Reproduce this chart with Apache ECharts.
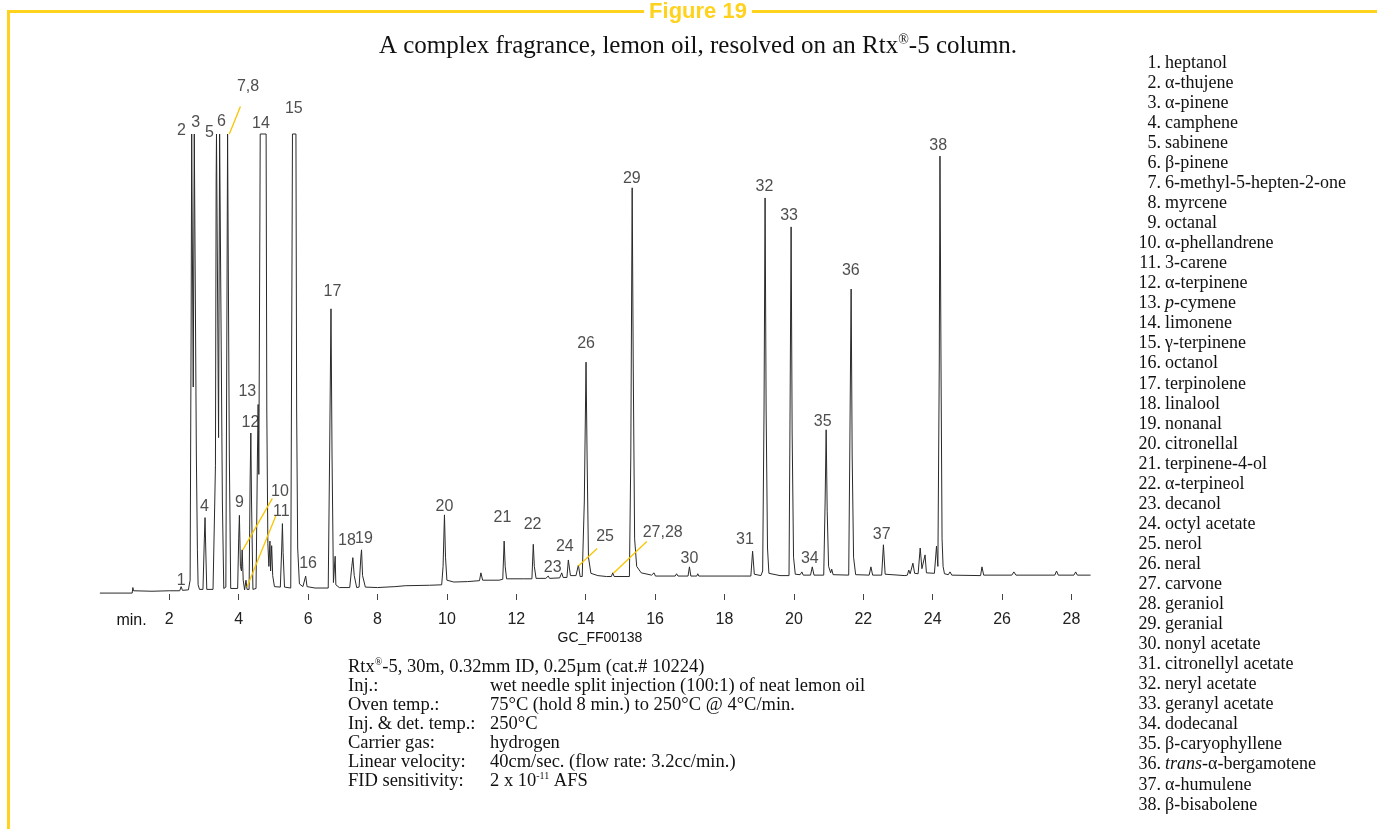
<!DOCTYPE html>
<html><head><meta charset="utf-8">
<script src="https://cdn.jsdelivr.net/npm/echarts@6/dist/echarts.min.js"></script>
<style>html,body{margin:0;padding:0;background:#fff}#c{width:1377px;height:829px}</style>
</head><body><div id="c"></div>
<script>
// ---- data ----
// retention time axis ticks (min.)
const tickValues = [2,4,6,8,10,12,14,16,18,20,22,24,26,28];
// chromatogram trace: [retention time (min), detector response (% of full scale, clipped at 100)]
const trace = [
[0.00,0.2],[0.93,0.2],[0.95,1.4],[0.97,0.7],[1.5,0.6],[2.0,0.7],[2.30,0.7],[2.34,1.6],[2.38,0.8],[2.55,0.9],
[2.60,3],[2.63,60],[2.645,100],[2.665,100],[2.69,45],[2.72,100],[2.76,100],[2.78,30],[2.81,9.6],[2.83,2],[2.87,1.0],
[2.97,1.0],[3.01,12],[3.03,16.6],[3.05,10],[3.08,1.0],
[3.26,1.0],[3.31,20],[3.33,28],[3.35,90],[3.36,100],[3.40,100],[3.42,34],[3.45,100],[3.50,100],[3.53,20],[3.57,1.2],
[3.63,1.5],[3.66,60],[3.68,100],[3.71,100],[3.73,30],[3.77,1.2],
[3.97,1.2],[4.00,12],[4.02,17.1],[4.05,6],
[4.08,5],[4.10,9.6],[4.13,3],[4.17,0.9],
[4.21,3.0],[4.24,1.0],
[4.30,1.0],[4.33,25],[4.35,35.0],[4.37,20],[4.41,1.0],
[4.50,1.2],[4.54,30],[4.56,41.2],[4.58,26],[4.61,80],[4.62,100],[4.79,100],[4.81,40],[4.84,11],[4.87,6],[4.90,11.5],[4.92,5],[4.95,10.5],[4.98,4],[5.03,1.6],
[5.20,1.5],[5.24,10],[5.26,15.3],[5.28,9],[5.32,1.5],
[5.50,1.3],[5.54,80],[5.55,100],[5.65,100],[5.67,40],[5.70,10],[5.75,2.2],[5.85,1.6],
[5.90,1.6],[5.93,3.9],[5.97,1.6],[6.2,1.3],
[6.58,1.3],[6.62,30],[6.66,62.0],[6.69,30],[6.73,2.5],[6.76,2.2],[6.78,8.2],[6.80,2.0],[6.9,1.4],
[7.2,1.4],[7.26,6],[7.29,7.9],[7.33,4],[7.40,1.4],[7.47,1.5],[7.52,8],[7.54,9.6],[7.57,4],[7.65,1.5],
[8.0,1.4],[8.5,1.6],[8.8,1.8],[9.5,1.9],[9.85,2.0],
[9.89,6],[9.93,17.2],[9.96,8],[10.00,3.0],[10.2,2.6],[10.6,2.7],[10.94,2.9],[10.98,4.6],[11.03,3.0],[11.5,3.0],[11.55,3.2],
[11.61,3.2],[11.65,11.5],[11.68,6],[11.72,3.3],[12.2,3.3],
[12.45,3.3],[12.49,10.8],[12.52,6],[12.57,3.4],[12.85,3.4],
[12.92,3.9],[12.96,3.4],[13.25,3.5],[13.31,4.6],[13.35,3.6],
[13.46,3.6],[13.50,7.4],[13.56,4.0],[13.72,4.0],[13.79,6.3],[13.84,3.8],[13.90,3.8],[13.96,20],[14.01,50.4],[14.04,30],[14.08,8],[14.15,4.5],[14.35,4.0],[14.6,3.8],
[14.74,3.8],[14.78,4.6],[14.82,3.8],
[15.26,3.8],[15.30,30],[15.34,88.3],[15.37,50],[15.41,12],[15.47,6],[15.6,4.6],[15.9,4.1],
[15.94,4.0],[15.97,4.6],[16.01,3.9],[16.58,3.9],[16.62,4.4],[16.66,3.9],
[16.95,3.9],[16.99,5.9],[17.03,3.9],[17.20,3.9],[17.23,4.4],[17.26,3.9],[18.5,3.9],
[18.76,3.9],[18.81,9.3],[18.86,4.3],[19.05,4.0],
[19.10,5],[19.14,40],[19.17,86.1],[19.20,40],[19.24,10],[19.28,4.5],[19.6,4.0],
[19.86,4.0],[19.89,40],[19.92,79.8],[19.95,35],[19.99,8],[20.04,4.3],[20.18,4.2],[20.23,4.8],[20.27,4.1],
[20.48,4.1],[20.53,5.9],[20.58,4.1],
[20.86,4.1],[20.90,20],[20.93,35.7],[20.96,18],[21.0,6],[21.06,4.6],[21.09,5.4],[21.13,4.2],
[21.58,4.1],[21.61,30],[21.65,66.3],[21.68,30],[21.72,8],[21.78,4.2],
[22.17,4.1],[22.22,5.9],[22.27,4.1],
[22.53,4.1],[22.58,10.7],[22.63,4.3],[23.2,4.0],
[23.27,4.1],[23.31,5.2],[23.35,4.4],[23.43,6.7],[23.48,4.5],[23.58,4.4],[23.64,10.0],[23.69,5.5],[23.73,5.2],[23.78,8.5],[23.82,4.6],[24.05,4.5],[24.11,10.4],[24.15,6],
[24.19,50],[24.21,95.2],[24.24,50],[24.27,12],[24.30,6],[24.34,4.4],[24.45,4.2],[24.50,4.8],[24.55,4.1],
[25.38,4.0],[25.42,5.9],[25.47,4.1],[26.28,4.1],[26.34,4.8],[26.40,4.1],[27.52,4.1],[27.57,5.0],[27.62,4.1],[28.07,4.1],[28.12,4.8],[28.17,4.1],[28.55,4.1]
];
// peak number labels: [text, time, response] (label centre)
const peakLabels = [
['1',2.34,3.0],['2',2.35,100.7],['3',2.76,102.4],['4',3.01,19.1],['5',3.16,100.4],['6',3.50,102.6],
['7,8',4.27,110.2],['9',4.02,19.8],['10',5.19,22.2],['11',5.23,18.0],['12',4.34,37.2],['13',4.25,44.1],
['14',4.64,102.2],['15',5.59,105.5],['16',6.0,6.7],['17',6.70,65.7],['18',7.12,11.7],['19',7.61,12.0],
['20',9.93,19.0],['21',11.60,16.6],['22',12.47,15.0],['23',13.05,5.7],['24',13.40,10.3],['25',14.56,12.5],
['26',14.01,54.5],['27,28',16.22,13.3],['29',15.33,90.2],['30',16.99,7.8],['31',18.59,11.9],['32',19.15,88.5],
['33',19.86,82.2],['34',20.46,7.8],['35',20.83,37.5],['36',21.64,70.3],['37',22.53,13.0],['38',24.16,97.4]
];
// yellow leader lines from label to peak: [[t1,v1],[t2,v2]]
const leaders = [
[[4.05,106.0],[3.73,100.0]],
[[4.97,20.8],[4.12,9.6]],
[[5.07,17.0],[4.24,1.5]],
[[14.33,9.9],[13.79,6.1]],
[[15.76,11.4],[14.80,4.5]]
];
// peak identification list
const compoundNames = [
'heptanol','{g|α}-thujene','{g|α}-pinene','camphene','sabinene','{g|β}-pinene','6-methyl-5-hepten-2-one',
'myrcene','octanal','{g|α}-phellandrene','3-carene','{g|α}-terpinene','{i|p}-cymene','limonene',
'{g|γ}-terpinene','octanol','terpinolene','linalool','nonanal','citronellal','terpinene-4-ol',
'{g|α}-terpineol','decanol','octyl acetate','nerol','neral','carvone','geraniol','geranial',
'nonyl acetate','citronellyl acetate','neryl acetate','geranyl acetate','dodecanal',
'{g|β}-caryophyllene','{i|trans}-{g|α}-bergamotene','{g|α}-humulene','{g|β}-bisabolene'
];
const figureTitle = 'Figure 19';
const subtitle = 'A complex fragrance, lemon oil, resolved on an Rtx{sup|®}-5 column.';
const columnLine = 'Rtx{sup|®}-5, 30m, 0.32mm ID, 0.25µm (cat.# 10224)';
const condLabels = ['Inj.:','Oven temp.:','Inj. & det. temp.:','Carrier gas:','Linear velocity:','FID sensitivity:'];
const condValues = ['wet needle split injection (100:1) of neat lemon oil','75°C (hold 8 min.) to 250°C @ 4°C/min.','250°C','hydrogen','40cm/sec. (flow rate: 3.2cc/min.)','2 x 10{sup|-11} AFS'];
const chartCode = 'GC_FF00138';

// ---- styles ----
const SERIF = "'Liberation Serif','Times New Roman',serif";
const NARROW = "'Liberation Sans Narrow','Liberation Sans',Arial,sans-serif";
const YELLOW = '#FFD21E';
const INK = '#2a2a2a';

const chart = echarts.init(document.getElementById('c'), null, {renderer:'canvas'});

function txt(x, y, text, o) {
  o = o || {};
  const fs = o.fs || 17;
  return {
    type:'text', x:x, y:y, silent:true, z:10,
    style: {
      text:text, fill:o.fill||'#111', fontFamily:o.ff||SERIF, fontSize:fs,
      fontWeight:o.fw||'normal',
      align:o.align||'left', verticalAlign:'middle', textAlign:o.align||'left', textVerticalAlign:'middle',
      rich: {
        sup:{fontSize:Math.round(fs*0.55), fontFamily:o.ff||SERIF, verticalAlign:'top', lineHeight:fs, padding:[0,0,Math.round(fs*0.35),0], fill:o.fill||'#111'},
        g:{fontSize:fs, fontFamily:SERIF, fill:o.fill||'#111'},
        i:{fontSize:fs, fontFamily:SERIF, fontStyle:'italic', fill:o.fill||'#111'}
      }
    }
  };
}

const graphics = [];
// frame
graphics.push({type:'line', silent:true, shape:{x1:7, y1:11.5, x2:1377, y2:11.5}, style:{stroke:YELLOW, lineWidth:3}});
graphics.push({type:'line', silent:true, shape:{x1:8.5, y1:10, x2:8.5, y2:829}, style:{stroke:YELLOW, lineWidth:3}});
graphics.push({type:'text', x:698, y:12, z:20, silent:true, style:{text:figureTitle, fill:YELLOW, fontFamily:NARROW, fontSize:22, fontWeight:'bold', align:'center', verticalAlign:'middle', textAlign:'center', textVerticalAlign:'middle', backgroundColor:'#fff', padding:[0,5]}});
graphics.push(txt(698, 46, subtitle, {fs:25, align:'center'}));
// axis unit + code
graphics.push(txt(131.5, 621, 'min.', {ff:NARROW, fs:16, align:'center'}));
graphics.push(txt(600, 638, chartCode, {ff:NARROW, fs:14, align:'center'}));
// conditions block
graphics.push(txt(348, 667, columnLine, {fs:18.5}));
condLabels.forEach((l,i)=>{
  graphics.push(txt(348, 686+i*19, l, {fs:18.5}));
  graphics.push(txt(490, 686+i*19, condValues[i], {fs:18.5}));
});
// peak list
compoundNames.forEach((n,i)=>{
  const y = 63 + i*20.05;
  graphics.push(txt(1161, y, (i+1)+'.', {fs:18, align:'right'}));
  graphics.push(txt(1165, y, n, {fs:18}));
});

const option = {
  animation:false,
  backgroundColor:'#fff',
  grid:{left:99.9, top:42, width:992.4, height:552, containLabel:false},
  xAxis:{
    type:'value', min:0, max:28.6, interval:2, offset:9,
    axisLine:{show:false},
    axisTick:{show:true, length:6, lineStyle:{color:'#444', width:1}, customValues:tickValues},
    axisLabel:{show:true, margin:9, fontFamily:NARROW, fontSize:16, color:'#222', customValues:tickValues},
    splitLine:{show:false}
  },
  yAxis:{type:'value', min:0, max:120, show:false},
  series:[
    {type:'line', data:trace, showSymbol:false, symbol:'none', clip:true,
     lineStyle:{color:INK, width:1}, silent:true, z:3},
    {type:'lines', coordinateSystem:'cartesian2d', silent:true, z:4,
     lineStyle:{color:'#F7C600', width:1.3, opacity:1},
     data: leaders.map(c=>({coords:c}))},
    {type:'scatter', silent:true, symbolSize:1, itemStyle:{color:'rgba(0,0,0,0)'}, z:5,
     data: peakLabels.map(p=>({name:p[0], value:[p[1],p[2]]})),
     label:{show:true, position:'inside', formatter:'{b}', fontFamily:NARROW, fontSize:16, color:'#222'}}
  ],
  graphic: graphics
};
chart.setOption(option);
</script></body></html>
